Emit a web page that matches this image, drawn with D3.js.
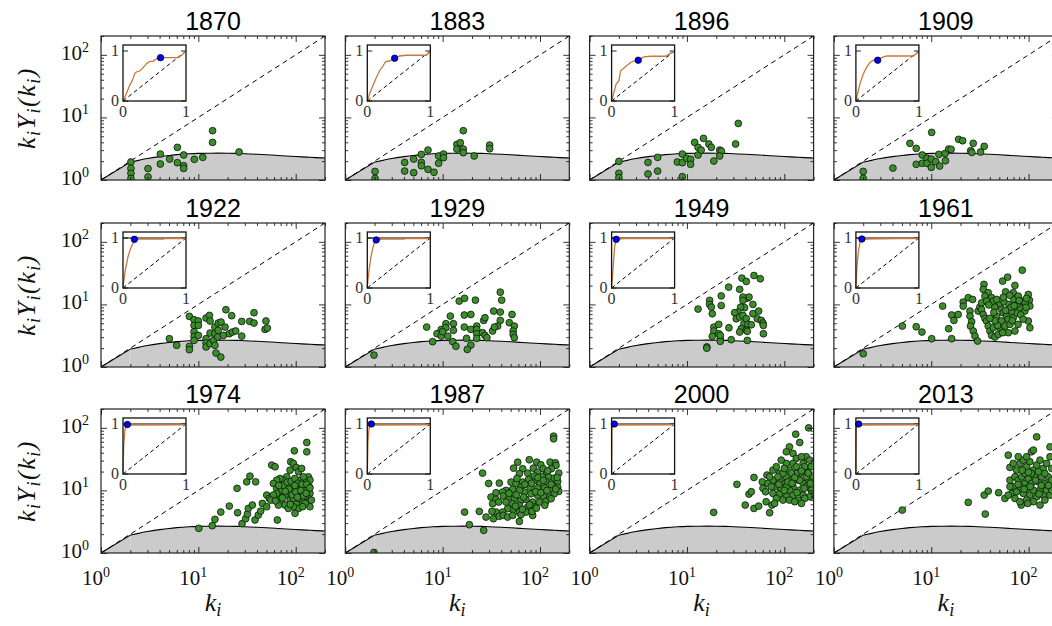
<!DOCTYPE html>
<html><head><meta charset="utf-8">
<script src="https://cdn.jsdelivr.net/npm/d3@7"></script>
<style>body{margin:0;background:#fff}</style>
</head><body>
<svg id="chart" width="1052" height="626"></svg>
<script>
// ---- panels ----
const years = [1870, 1883, 1896, 1909, 1922, 1929, 1949, 1961, 1974, 1987, 2000, 2013];

// ---- scatter values: [k_i, k_i Y_i(k_i)] ----
const pts1870 = [[2.03,1.94],[2.03,1.53],[2.03,1.28],[2.03,1.06],[3.04,1.52],[3.04,1.12],[4.07,2.6],[4.07,1.8],[5.08,2.16],[6.09,3.32],[6.09,1.89],[7.07,2.51],[7.07,1.69],[7.07,1.53],[9.1,2.14],[11.1,2.3],[14.0,6.13],[14.0,3.99],[26.2,2.8]];
const pts1883 = [[2.02,1.37],[2.02,1.06],[4.07,1.91],[4.07,1.39],[5.04,2.16],[5.04,1.31],[6.04,2.57],[6.04,1.91],[6.04,1.69],[7.07,3.01],[7.07,1.48],[8.15,1.33],[9.1,2.42],[9.1,1.85],[10.2,2.6],[10.2,2.27],[14.0,3.71],[14.0,3.12],[15.2,3.94],[16.3,6.13],[16.3,3.12],[16.3,2.73],[21.1,2.42],[30.4,3.62],[30.4,3.16]];
const pts1896 = [[2.0,1.99],[2.0,1.28],[2.0,1.09],[3.98,1.91],[3.98,1.25],[5.0,2.3],[5.0,1.39],[8.96,1.13],[7.96,1.94],[8.96,2.6],[8.96,1.89],[9.9,2.22],[10.9,2.14],[10.9,1.78],[13.0,2.51],[12.0,3.99],[13.0,3.32],[14.0,3.01],[14.8,4.62],[16.8,3.76],[17.8,3.32],[18.9,2.01],[21.7,3.01],[22.6,2.9],[21.7,2.42],[31.6,3.76],[33.7,8.02]];
const pts1909 = [[2.0,1.37],[2.0,1.06],[4.04,1.55],[6.04,3.85],[7.01,3.2],[10.1,5.76],[8.09,2.51],[9.03,2.22],[7.01,1.78],[8.09,1.85],[9.03,1.85],[10.0,2.16],[10.0,1.59],[11.1,1.96],[12.2,1.67],[12.0,2.57],[13.9,2.66],[14.0,2.03],[15.1,3.12],[16.0,3.09],[19.1,4.46],[21.0,4.24],[25.4,2.94],[27.0,3.85],[26.1,2.76],[32.1,2.8],[35.0,3.45]];
const pts1922 = [[5.04,2.83],[5.99,2.22],[8.09,6.44],[8.09,2.14],[8.09,1.89],[9.03,5.69],[9.03,4.62],[9.03,3.66],[9.03,3.09],[9.03,2.66],[10.0,5.43],[10.0,4.62],[10.0,3.2],[12.0,6.06],[13.0,6.67],[13.2,5.43],[12.0,2.83],[12.0,2.42],[12.0,2.09],[13.2,2.36],[14.3,2.66],[14.8,2.22],[15.2,1.67],[17.0,1.44],[13.2,3.49],[14.8,3.4],[14.8,4.35],[16.0,5.04],[17.1,5.23],[16.0,3.85],[15.8,3.01],[18.1,3.2],[18.8,4.35],[19.2,8.22],[22.0,6.6],[20.8,3.4],[22.4,3.62],[24.2,3.76],[27.9,3.12],[27.9,5.35],[33.7,5.35],[37.3,7.37],[37.3,5.04],[48.4,3.99],[49.5,5.43],[51.1,4.19]];
const pts1929 = [[1.97,1.55],[6.85,4.35],[7.89,2.54],[8.75,3.4],[9.69,3.99],[9.69,3.12],[10.8,4.92],[10.8,4.24],[10.0,3.66],[11.3,3.12],[12.0,6.51],[12.9,4.92],[12.9,3.85],[12.7,2.54],[13.7,2.14],[14.8,11.3],[16.8,12.5],[21.7,11.7],[16.7,6.77],[19.5,6.9],[16.7,4.35],[19.5,3.99],[22.4,4.51],[22.4,3.99],[22.4,3.4],[22.4,2.87],[17.6,2.87],[19.5,2.24],[17.9,1.91],[25.7,3.53],[27.2,3.2],[28.5,2.94],[26.4,5.55],[27.2,6.13],[33.4,7.83],[39.1,15.7],[40.4,11.7],[39.1,7.55],[39.1,5.55],[32.6,3.76],[36.7,4.51],[34.0,4.35],[51.6,6.9],[48.4,5.11],[54.5,4.51],[53.0,3.76],[53.0,3.32],[54.5,2.94]];
const pts1949 = [[16.0,2.09],[16.0,2.0],[13.0,8.43],[17.1,11.6],[17.1,10.0],[17.8,9.06],[18.2,7.1],[18.9,4.35],[18.9,3.76],[18.2,3.09],[21.2,4.8],[21.2,3.4],[22.0,2.83],[22.0,2.57],[28.5,2.73],[27.0,4.24],[22.5,13.7],[22.5,9.6],[26.8,18.9],[34.8,17.4],[36.7,26.3],[40.7,23.3],[41.7,12.6],[43.4,13.1],[37.6,13.1],[37.6,11.6],[39.1,8.85],[35.6,9.06],[33.4,7.55],[30.9,7.37],[48.8,29.0],[56.7,25.7],[32.1,5.9],[34.8,6.28],[37.6,6.67],[38.5,4.92],[40.7,5.9],[42.3,4.8],[45.8,4.73],[36.2,4.09],[40.7,3.85],[47.6,10.0],[47.6,7.1],[54.5,7.83],[52.8,5.9],[58.0,5.55],[60.4,5.04],[60.9,4.62],[61.0,3.4],[41.7,3.71],[34.8,3.62],[41.7,2.66],[22.0,3.2]];
const pts1961 = [[2.0,1.63],[5.04,4.51],[7.01,4.4],[8.02,3.62],[10.1,2.83],[13.1,9.4],[16.2,6.77],[17.1,5.55],[15.1,4.09],[16.2,2.83],[18.9,6.9],[21.3,10.9],[21.3,9.4],[24.0,12.8],[26.6,12.0],[25.0,7.83],[25.0,6.51],[26.0,5.29],[25.3,4.51],[27.0,3.76],[28.1,3.12],[29.9,2.6],[30.4,7.83],[31.6,9.06],[32.9,10.6],[34.8,20.9],[34.2,17.4],[38.5,15.4],[41.7,12.8],[43.4,11.3],[35.6,13.6],[37.0,11.3],[32.9,8.33],[34.2,6.9],[35.6,5.98],[37.0,5.43],[38.5,4.51],[40.1,3.76],[41.7,3.2],[45.1,3.01],[48.8,3.32],[43.4,4.24],[54.1,23.6],[60.9,27.3],[58.0,15.9],[72.4,20.1],[69.6,15.4],[70.7,12.0],[78.3,13.6],[86.1,35.3],[84.5,11.3],[88.2,9.4],[99.3,14.4],[102,11.7],[103,9.4],[50.8,10.0],[52.8,8.33],[54.9,7.37],[59.4,6.51],[61.8,5.77],[52.8,5.43],[50.8,4.24],[57.1,4.51],[64.3,4.8],[69.6,6.13],[75.3,7.37],[81.5,8.85],[66.9,7.83],[72.4,3.76],[61.8,3.53],[54.1,3.53],[99.3,5.43],[103,4.24],[91.6,7.83],[45,9.0],[47,12.0],[56,11.0],[63,10.0],[66,9.0],[76,10.0],[80,11.5],[92,10.5],[95,12.5],[64,14.0],[55,13.0],[47,6.5],[44,7.5],[58,8.0],[68,5.5],[83,6.8],[88,5.8],[78,4.8],[48,4.6],[45,5.5],[40,6.0],[39,9.8],[94,9.0],[71,9.5]];
const pts1974 = [[10.1,2.48],[13.9,2.73],[14.8,3.45],[17.0,4.51],[20.8,5.62],[25.0,10.8],[25.3,4.4],[28.1,2.94],[30.6,3.53],[31.9,4.19],[32.6,5.16],[31.4,13.7],[33.9,16.9],[38.8,13.7],[35.9,5.84],[38.2,3.37],[41.3,4.04],[43.7,4.68],[45.5,6.2],[50.4,5.49],[50.4,8.43],[53.6,7.45],[56.7,25.4],[61.4,23.9],[64.8,3.37],[130,58.3],[130,41.4],[96.9,43.0],[88.9,28.7],[94.6,27.0],[101,23.3],[107,19.9],[115,22.4],[87.5,21.1],[80.9,16.5],[135,16.5],[140,14.6],[138,11.4],[140,8.95],[135,7.45],[140,5.49],[125,13.7],[120,10.8],[111,8.95],[125,7.92],[115,7.01],[102,6.2],[107,5.16],[98.4,4.3],[94.6,5.49],[87.5,7.01],[84.1,8.95],[80.9,11.4],[74.7,14.6],[69.0,15.5],[63.8,14.6],[59.0,12.9],[63.8,10.8],[71.8,10.1],[77.6,8.43],[69.0,7.92],[63.8,8.95],[71.8,6.59],[77.6,5.84],[84.1,5.16],[94.6,7.45],[102,11.4],[111,14.6],[87.5,12.9],[94.6,10.1],[107,7.45],[125,6.2],[130,10.1],[120,16.5],[59.0,8.43],[55.5,7.0],[66.4,5.84],[75,12.0],[82,13.5],[90,14.0],[98,15.5],[105,13.0],[116,12.5],[130,12.5],[92,8.5],[100,9.5],[113,10.0],[120,8.2],[98,12.0],[85,10.5],[78,9.7],[67,12.0],[62,6.8],[73,7.6],[88,6.0],[104,7.8],[118,5.5],[128,9.0],[140,11.0],[145,7.0]];
const pts1987 = [[1.97,1.02],[26.4,2.3],[18.8,2.83],[16.8,4.51],[23.8,4.62],[25.7,18.9],[29.7,12.9],[38.2,13.1],[50.4,13.6],[138,73.6],[138,66.7],[59.0,28.3],[77.6,30.9],[92.5,28.3],[102,25.7],[127,28.3],[144,27.6],[146,25.1],[53.6,22.7],[66.4,22.2],[85.5,22.7],[108,22.2],[131,22.2],[156,18.9],[61.4,18.5],[74.7,18.9],[94.6,19.6],[117,18.9],[123,16.3],[140,15.7],[152,13.9],[152,11.3],[156,9.64],[135,12.0],[115,13.9],[98.4,13.3],[87.5,14.4],[76.5,15.0],[66.4,13.6],[56.7,12.8],[63.8,11.3],[78.9,11.3],[94.6,10.9],[111,10.9],[127,10.4],[140,8.85],[125,7.83],[108,8.13],[94.6,8.32],[80.9,8.85],[69.0,9.4],[61.4,10.0],[52.4,10.4],[44.8,10.0],[41.3,9.4],[35.3,9.18],[31.4,7.83],[35.3,7.18],[37.6,6.51],[42.0,8.13],[48.4,7.83],[54.5,7.36],[63.8,6.92],[71.8,7.18],[84.1,6.51],[98.4,6.51],[115,6.67],[130,7.36],[44.8,6.51],[52.4,6.12],[61.4,5.77],[74.7,5.42],[87.5,5.42],[71.8,4.51],[61.4,4.51],[52.4,4.97],[46.5,5.1],[41.3,4.51],[35.3,4.51],[32.1,4.62],[32.6,6.12],[27.9,3.75],[33.2,3.53],[38.2,3.85],[42.0,3.99],[46.5,3.75],[52.4,3.99],[63.8,4.09],[84.1,3.99],[61.4,3.2],[82.8,4.62],[70,12.5],[88,17.0],[105,16.5],[120,20.5],[58,15.5],[48,9.0],[57,8.5],[68,7.8],[90,9.5],[102,9.2],[118,10.0],[130,12.5],[145,10.5],[150,16.0],[112,5.8],[78,5.9],[92,5.2],[66,5.0],[56,5.6],[82,13.0],[95,16.0],[108,14.5]];
const pts2000 = [[18.8,4.46],[32.6,12.5],[39.7,5.84],[43.4,8.74],[45.8,9.52],[48.8,16.1],[48.8,5.16],[54.5,5.62],[59.4,13.7],[60.4,10.8],[64.3,9.52],[66.4,17.6],[70.7,4.4],[74.7,5.84],[65.1,6.59],[131,79.2],[144,58.3],[178,100],[113,49.7],[105,41.4],[123,38.9],[133,32.4],[168,34.5],[76.5,21.1],[82.8,23.9],[89.6,18.7],[76.5,14.6],[70.7,16.5],[82.8,11.5],[76.5,8.95],[89.6,8.95],[96.9,12.9],[105,16.5],[113,21.1],[123,27.0],[133,23.9],[144,18.7],[156,27.0],[168,21.1],[182,30.5],[189,16.5],[175,14.6],[156,12.9],[139,14.6],[123,11.5],[113,10.1],[105,7.92],[96.9,7.01],[82.8,7.45],[79.5,6.2],[123,8.4],[144,10.1],[168,11.5],[189,10.1],[182,7.92],[156,8.4],[139,7.01],[113,7.01],[133,18.7],[118,14.6],[105,11.5],[93,10.8],[89.6,14.6],[96.9,18.7],[105,27.0],[93,30.5],[150,34.5],[162,23.9],[189,23.9],[144,14.6],[168,16.5],[128,6.6],[162,7.45],[86,16.5],[109,13.7],[67.9,12.9],[73.5,11.5],[100,22.5],[118,19.0],[128,16.0],[150,20.5],[176,19.0],[160,10.8],[135,9.2],[120,13.0],[100,10.0],[88,12.5],[185,13.0],[150,6.2]];
const pts2013 = [[5.04,4.85],[24.0,6.44],[35.9,4.19],[35.0,8.43],[38.5,9.75],[49.2,9.2],[57.1,7.45],[61.8,36.6],[64.3,23.3],[64.3,14.6],[66.9,8.95],[121,71.8],[107,41.4],[112,44.0],[166,49.7],[84,5.84],[131,5.84],[69.6,27.0],[75.3,21.1],[81.5,27.0],[88.2,30.5],[95.4,23.9],[103,28.8],[112,21.1],[121,25.5],[131,30.5],[141,22.5],[153,27.0],[166,34.5],[72.4,16.5],[78.3,14.6],[84.9,16.5],[91.8,12.9],[99.3,15.5],[107,12.9],[116,16.5],[126,13.7],[136,16.5],[147,12.9],[159,16.5],[173,14.6],[69.6,11.5],[75.3,9.5],[81.5,11.5],[88.2,8.95],[95.4,10.8],[103,8.4],[112,10.1],[121,7.92],[131,10.1],[141,8.4],[153,10.1],[166,8.4],[72.4,7.45],[81.5,6.6],[95.4,7.01],[112,6.6],[147,7.01],[173,22.5],[173,10.1],[91.8,18.7],[107,18.7],[126,19.9],[147,18.7],[64.3,11.5],[61.8,8.4],[78.3,34.5],[95.4,34.5],[86,21.0],[100,19.5],[118,14.5],[135,12.0],[160,12.0],[90,10.5],[104,11.5],[128,8.8],[78,12.5],[98,6.2]];

// ---- inset curves: [share of nodes, cumulative share] ----
const lor1870 = [[0,0],[0.053,0.147],[0.106,0.313],[0.149,0.413],[0.186,0.547],[0.213,0.58],[0.266,0.6],[0.319,0.667],[0.372,0.747],[0.426,0.793],[0.479,0.793],[0.532,0.847],[0.596,0.867],[0.745,0.867],[0.878,0.867],[0.93,0.913],[1,1]];
const lor1883 = [[0,0],[0.037,0.145],[0.09,0.31],[0.143,0.47],[0.196,0.605],[0.249,0.7],[0.29,0.79],[0.354,0.8],[0.434,0.855],[0.513,0.9],[0.62,0.915],[0.937,0.915],[1,1]];
const lor1896 = [[0,0],[0.037,0.178],[0.074,0.342],[0.116,0.408],[0.143,0.605],[0.196,0.658],[0.238,0.704],[0.302,0.77],[0.354,0.8],[0.423,0.816],[0.513,0.882],[0.62,0.895],[0.857,0.895],[0.926,0.947],[1,1]];
const lor1909 = [[0,0],[0.027,0.145],[0.064,0.342],[0.117,0.54],[0.17,0.671],[0.223,0.77],[0.277,0.816],[0.346,0.816],[0.41,0.868],[0.489,0.9],[0.596,0.9],[0.915,0.9],[1,0.99]];
const lor1922 = [[0,0],[0.016,0.166],[0.037,0.364],[0.08,0.63],[0.122,0.795],[0.16,0.894],[0.181,0.974],[0.24,0.98],[0.64,0.98],[0.665,0.99],[1,0.99]];
const lor1929 = [[0,0],[0.01,0.163],[0.032,0.392],[0.058,0.621],[0.084,0.784],[0.11,0.895],[0.142,0.961],[0.242,0.98],[0.584,0.98],[0.61,0.99],[1,0.99]];
const lor1949 = [[0,0],[0.026,0.43],[0.048,0.828],[0.074,0.974],[0.196,0.99],[1,0.99]];
const lor1961 = [[0,0],[0.016,0.428],[0.042,0.757],[0.068,0.921],[0.095,0.98],[0.674,0.99],[1,0.99]];
const lor1974 = [[0,0],[0.011,0.575],[0.032,0.902],[0.074,0.98],[1,0.985]];
const lor1987 = [[0,0],[0.011,0.667],[0.032,0.967],[0.1,0.98],[1,0.985]];
const lor2000 = [[0,0],[0.005,0.9],[0.02,0.98],[1,0.985]];
const lor2013 = [[0,0],[0.005,0.9],[0.02,0.98],[1,0.985]];
const dot1870 = [0.596,0.867], dot1883 = [0.434,0.855], dot1896 = [0.423,0.816], dot1909 = [0.346,0.816];
const dot1922 = [0.181,0.974], dot1929 = [0.142,0.961], dot1949 = [0.074,0.974], dot1961 = [0.095,0.98];
const dot1974 = [0.07,0.99], dot1987 = [0.064,1.0], dot2000 = [0.043,1.0], dot2013 = [0.043,1.0];
// level of the saturated curve shown in the inset (null where absent)
const ceiling = [null, null, null, null, 1, 1, 1, 1, 1, 1, 1, 1];

// ---- null-model curve ----
const nullK  = [1, 2, 2.5, 3, 4, 5, 6, 8, 10, 13, 16, 20, 25, 30, 40, 50, 65, 80, 100, 130, 160, 200];
const nullKY = [1, 1.93, 2.08, 2.2, 2.36, 2.47, 2.54, 2.62, 2.66, 2.68, 2.69, 2.68, 2.66, 2.63, 2.58, 2.53, 2.47, 2.42, 2.37, 2.32, 2.28, 2.25];

// ---- axis ticks ----
const majorTicks = [1, 10, 100];
const tickExp = ["0", "1", "2"];
const insetTicks = [0, 1];

const pointsByYear = {1870:pts1870,1883:pts1883,1896:pts1896,1909:pts1909,1922:pts1922,1929:pts1929,1949:pts1949,1961:pts1961,1974:pts1974,1987:pts1987,2000:pts2000,2013:pts2013};
const lorenzByYear = {1870:lor1870,1883:lor1883,1896:lor1896,1909:lor1909,1922:lor1922,1929:lor1929,1949:lor1949,1961:lor1961,1974:lor1974,1987:lor1987,2000:lor2000,2013:lor2013};
const dotByYear = {1870:dot1870,1883:dot1883,1896:dot1896,1909:dot1909,1922:dot1922,1929:dot1929,1949:dot1949,1961:dot1961,1974:dot1974,1987:dot1987,2000:dot2000,2013:dot2013};

// ---- layout ----
const W = 224, H = 144, colStep = 244.3, left0 = 101, rowTops = [36, 223, 409];
const IX = 22, IY = 9, IW = 63, IH = 56;
const serif = "'Liberation Serif', 'DejaVu Serif', serif";
const sans = "'Liberation Sans', Arial, sans-serif";

const svg = d3.select('#chart');
svg.append('rect').attr('width', 1052).attr('height', 626).attr('fill', '#fff');
const defs = svg.append('defs');

function powerLabel(sel, exp) {
  sel.append('tspan').text('10');
  sel.append('tspan').attr('font-size', 14).attr('dy', -8).text(exp);
}

function mathLabel(sel, parts) {
  // parts: [text, isSub]
  let sub = false;
  parts.forEach(([t, s]) => {
    const ts = sel.append('tspan').text(t);
    if (s && !sub) { ts.attr('dy', 5).attr('font-size', 18); sub = true; }
    else if (s) { ts.attr('font-size', 18); }
    else if (!s && sub) { ts.attr('dy', -5); sub = false; }
  });
}

years.forEach((yr, i) => {
  const c = i % 4, r = Math.floor(i / 4);
  const x0 = left0 + c * colStep, y0 = rowTops[r];
  const x = d3.scaleLog().domain([1, 200]).range([x0, x0 + W]);
  const y = d3.scaleLog().domain([1, 200]).range([y0 + H, y0]);
  const g = svg.append('g');

  const clipId = 'clip' + yr;
  defs.append('clipPath').attr('id', clipId)
    .append('rect').attr('x', x0).attr('y', y0).attr('width', W).attr('height', H);
  const inner = g.append('g').attr('clip-path', `url(#${clipId})`);

  // shaded null-model region: straight first segment, smooth afterwards
  const nullPts = nullK.map((k, j) => [k, nullKY[j]]);
  const head = nullPts.slice(0, 2), tail = nullPts.slice(1);
  const areaLin = d3.area().x(d => x(d[0])).y0(y(1)).y1(d => y(d[1]));
  const areaSm = d3.area().x(d => x(d[0])).y0(y(1)).y1(d => y(d[1])).curve(d3.curveMonotoneX);
  inner.append('path').datum(head).attr('d', areaLin).attr('fill', '#cbcbcb');
  inner.append('path').datum(tail).attr('d', areaSm).attr('fill', '#cbcbcb');
  const lineLin = d3.line().x(d => x(d[0])).y(d => y(d[1]));
  const lineSm = d3.line().x(d => x(d[0])).y(d => y(d[1])).curve(d3.curveMonotoneX);
  inner.append('path').datum(head).attr('d', lineLin).attr('fill', 'none').attr('stroke', '#000').attr('stroke-width', 1.1);
  inner.append('path').datum(tail).attr('d', lineSm).attr('fill', 'none').attr('stroke', '#000').attr('stroke-width', 1.1);

  // diagonal k Y = k
  inner.append('path').datum([[1, 1], [200, 200]]).attr('d', lineLin)
    .attr('fill', 'none').attr('stroke', '#000').attr('stroke-width', 1).attr('stroke-dasharray', '5,4');

  // nodes
  inner.selectAll('circle').data(pointsByYear[yr]).join('circle')
    .attr('cx', d => x(d[0])).attr('cy', d => y(d[1])).attr('r', 3.4)
    .attr('fill', '#3b8f2a').attr('stroke', '#111').attr('stroke-width', 0.8);

  // ticks on all four sides, pointing inward
  const minor = x.ticks().filter(v => !majorTicks.includes(v));
  const addAxis = (axisFn, scale, tr) => {
    const ga = g.append('g').attr('transform', tr);
    ga.call(axisFn(scale).tickValues(majorTicks).tickSize(-6).tickFormat(''));
    ga.select('.domain').remove();
    const gm = g.append('g').attr('transform', tr);
    gm.call(axisFn(scale).tickValues(minor).tickSize(-3).tickFormat(''));
    gm.select('.domain').remove();
  };
  addAxis(d3.axisBottom, x, `translate(0,${y0 + H})`);
  addAxis(d3.axisTop, x, `translate(0,${y0})`);
  addAxis(d3.axisLeft, y, `translate(${x0},0)`);
  addAxis(d3.axisRight, y, `translate(${x0 + W},0)`);
  g.selectAll('.tick line').attr('stroke', '#000').attr('stroke-width', 0.8);

  // frame
  g.append('rect').attr('x', x0).attr('y', y0).attr('width', W).attr('height', H)
    .attr('fill', 'none').attr('stroke', '#222').attr('stroke-width', 1.2);

  // title
  g.append('text').attr('x', x0 + W / 2).attr('y', y0 - 6).attr('text-anchor', 'middle')
    .attr('font-family', sans).attr('font-size', 25).attr('fill', '#000').text(yr);

  // y tick labels (first column)
  if (c === 0) {
    majorTicks.forEach((v, j) => {
      const t = g.append('text').attr('x', x0 - 12).attr('y', y(v) + 5).attr('text-anchor', 'end')
        .attr('font-family', serif).attr('font-size', 21).attr('fill', '#111');
      powerLabel(t, tickExp[j]);
    });
    const yl = g.append('text').attr('transform', `translate(${x0 - 66},${y0 + H / 2}) rotate(-90)`)
      .attr('text-anchor', 'middle').attr('font-family', serif).attr('font-style', 'italic')
      .attr('font-size', 26).attr('letter-spacing', 1.5).attr('fill', '#111');
    mathLabel(yl, [['k', false], ['i', true], ['Y', false], ['i', true], ['(k', false], ['i', true], [')', false]]);
  }
  // x tick labels (last row)
  if (r === 2) {
    majorTicks.forEach((v, j) => {
      const t = g.append('text').attr('x', x(v) - 5).attr('y', y0 + H + 32).attr('text-anchor', 'middle')
        .attr('font-family', serif).attr('font-size', 21).attr('fill', '#111');
      powerLabel(t, tickExp[j]);
    });
    const xl = g.append('text').attr('x', x0 + W / 2).attr('y', y0 + H + 58).attr('text-anchor', 'middle')
      .attr('font-family', serif).attr('font-style', 'italic').attr('font-size', 26).attr('fill', '#111');
    mathLabel(xl, [['k', false], ['i', true]]);
  }

  // ---- inset ----
  const ix0 = x0 + IX, iy0 = y0 + IY;
  const xi = d3.scaleLinear().domain([0, 1]).range([ix0, ix0 + IW]);
  const yi = d3.scaleLinear().domain([0, 1.12]).range([iy0 + IH, iy0]);
  const gi = g.append('g');
  gi.append('rect').attr('x', ix0).attr('y', iy0).attr('width', IW).attr('height', IH).attr('fill', '#fff');
  // inward ticks at 0 and 1 on both sides
  insetTicks.forEach(v => {
    gi.append('line').attr('x1', xi(0)).attr('x2', xi(0) + 5).attr('y1', yi(v)).attr('y2', yi(v))
      .attr('stroke', '#777').attr('stroke-width', 1.6);
    gi.append('line').attr('x1', xi(1)).attr('x2', xi(1) - 5).attr('y1', yi(v)).attr('y2', yi(v))
      .attr('stroke', '#777').attr('stroke-width', 1.6);
  });
  const li = d3.line().x(d => xi(d[0])).y(d => yi(d[1]));
  gi.append('path').datum([[0, 0], [1, 1]]).attr('d', li).attr('fill', 'none')
    .attr('stroke', '#000').attr('stroke-width', 1).attr('stroke-dasharray', '4,3');
  if (ceiling[i] !== null) {
    gi.append('path').datum([[0, ceiling[i]], [1, ceiling[i]]]).attr('d', li)
      .attr('stroke', '#000').attr('stroke-width', 1.2);
  }
  gi.append('path').datum(lorenzByYear[yr]).attr('d', li).attr('fill', 'none')
    .attr('stroke', '#c8783c').attr('stroke-width', 1.3);
  const dp = dotByYear[yr];
  gi.append('circle').attr('cx', xi(dp[0])).attr('cy', yi(dp[1])).attr('r', 3.2)
    .attr('fill', '#0000ff').attr('stroke', '#000').attr('stroke-width', 0.8);
  gi.append('rect').attr('x', ix0).attr('y', iy0).attr('width', IW).attr('height', IH)
    .attr('fill', 'none').attr('stroke', '#111').attr('stroke-width', 1.3);
  insetTicks.forEach(v => {
    gi.append('text').attr('x', ix0 - 4).attr('y', yi(v) + 5).attr('text-anchor', 'end')
      .attr('font-family', serif).attr('font-size', 16).attr('fill', '#333').text(v);
    gi.append('text').attr('x', xi(v)).attr('y', iy0 + IH + 16).attr('text-anchor', 'middle')
      .attr('font-family', serif).attr('font-size', 16).attr('fill', '#333').text(v);
  });
});
</script>
</body></html>
